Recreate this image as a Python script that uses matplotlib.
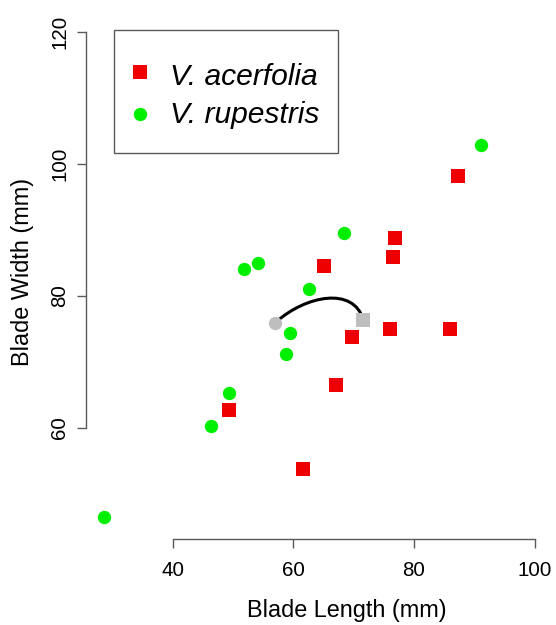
import matplotlib
matplotlib.use("Agg")
import matplotlib.pyplot as plt
from matplotlib.path import Path
from matplotlib.patches import PathPatch, Rectangle
from matplotlib.lines import Line2D

plt.rcParams['font.family'] = ['Liberation Sans', 'DejaVu Sans']

acer_length = [87.25, 76.8, 76.45, 65.0, 69.65, 76.0, 85.9, 67.05, 49.3, 61.55]
acer_width = [98.2, 88.8, 85.9, 84.5, 73.75, 74.9, 74.9, 66.4, 62.7, 53.75]
rup_length = [91.1, 68.35, 51.75, 54.2, 62.5, 59.5, 58.8, 49.3, 46.4, 28.5]
rup_width = [102.8, 89.55, 84.1, 84.9, 81.05, 74.4, 71.2, 65.3, 60.25, 46.4]

# grey highlighted pair and the arc joining them (bezier control points)
grey_circle = (57.0, 75.9)
grey_square = (71.5, 76.3)
arc_x = [57.1, 62.0, 70.0, 71.6]
arc_y = [76.0, 80.0, 81.5, 76.3]

x_ticks = [40, 60, 80, 100]
y_ticks = [60, 80, 100, 120]
legend_labels = ["V. acerfolia", "V. rupestris"]

W, H = 556, 625


def fx(px):
    return px / W


def fy(py):
    return 1 - py / H


fig = plt.figure(figsize=(W / 100, H / 100), dpi=100)
ax = fig.add_axes([fx(85.5), fy(539), (540 - 85.5) / W, (539 - 25) / H])
ax.set_xlim(25.5, 100.9)
ax.set_ylim(43.14, 121.0)

axis_col = '#5a5a5a'
for side in ['top', 'right']:
    ax.spines[side].set_visible(False)
for side in ['left', 'bottom']:
    ax.spines[side].set_color(axis_col)
    ax.spines[side].set_linewidth(1.0)
ax.spines['left'].set_bounds(y_ticks[0], y_ticks[-1])
ax.spines['bottom'].set_bounds(x_ticks[0], x_ticks[-1])

ax.set_xticks(x_ticks)
ax.set_yticks(y_ticks)
ax.tick_params(direction='out', length=6.8, width=1.0, color=axis_col,
               labelsize=14.8, labelcolor='black')
ax.tick_params(axis='x', pad=9)
ax.tick_params(axis='y', pad=5)
for lab in ax.get_yticklabels():
    lab.set_rotation(90)
    lab.set_va('center')

ax.plot(rup_length, rup_width, 'o', color='#00ee00', markersize=9.6,
        markeredgewidth=0, clip_on=False)
ax.plot(acer_length, acer_width, 's', color='#ee0000', markersize=10.4,
        markeredgewidth=0, clip_on=False)

ax.plot([grey_circle[0]], [grey_circle[1]], 'o', color='#bebebe',
        markersize=9.6, markeredgewidth=0)
ax.plot([grey_square[0]], [grey_square[1]], 's', color='#bebebe',
        markersize=10.4, markeredgewidth=0)

arc = Path(list(zip(arc_x, arc_y)),
           [Path.MOVETO, Path.CURVE4, Path.CURVE4, Path.CURVE4])
ax.add_patch(PathPatch(arc, facecolor='none', edgecolor='black', lw=2.2))

fig.text(fx(347), fy(610), "Blade Length (mm)", fontsize=16.9,
         ha='center', va='center')
fig.text(fx(23), fy(272), "Blade Width (mm)", fontsize=16.9,
         ha='center', va='center', rotation=90)

# legend box
fig.add_artist(Rectangle((fx(114), fy(153)), (338 - 114) / W, (153 - 30) / H,
                         transform=fig.transFigure, fill=False,
                         edgecolor=axis_col, lw=1.0))
fig.add_artist(Line2D([fx(140)], [fy(72.3)], marker='s', color='#ee0000',
                      markersize=10.4, markeredgewidth=0, linestyle='none',
                      transform=fig.transFigure))
fig.add_artist(Line2D([fx(140)], [fy(113.5)], marker='o', color='#00ee00',
                      markersize=9.6, markeredgewidth=0, linestyle='none',
                      transform=fig.transFigure))
fig.text(fx(170), fy(85), legend_labels[0], fontsize=21.6, style='italic',
         ha='left', va='baseline')
fig.text(fx(170), fy(123), legend_labels[1], fontsize=21.6, style='italic',
         ha='left', va='baseline')

fig.savefig("out.png", dpi=100)
